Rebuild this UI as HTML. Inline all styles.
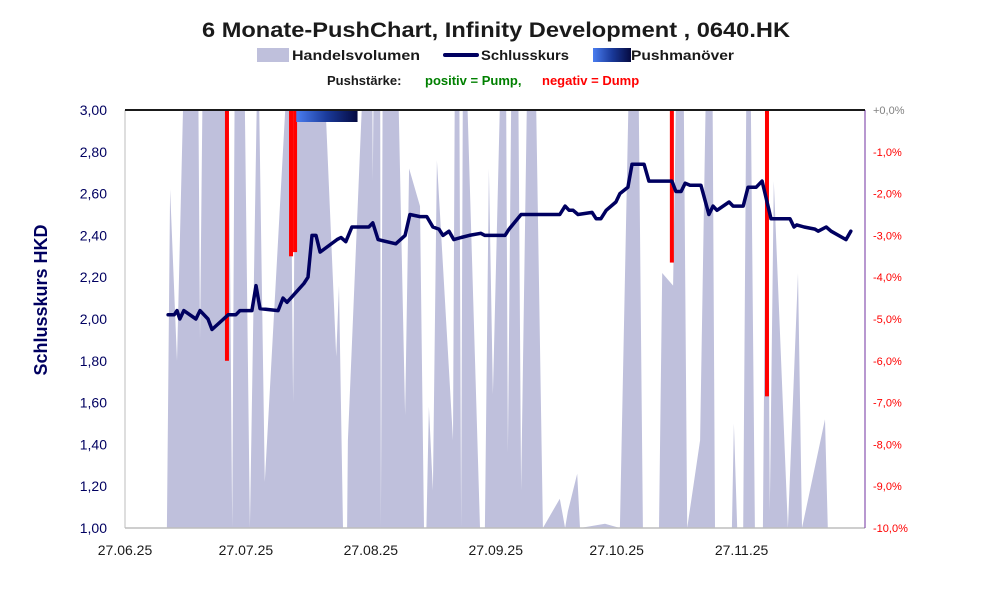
<!DOCTYPE html>
<html><head><meta charset="utf-8"><style>
html,body{margin:0;padding:0;background:#fff}
svg{display:block;font-family:"Liberation Sans",sans-serif}
</style></head><body>
<svg id="chart" width="991" height="593" viewBox="0 0 991 593">
<defs>
<linearGradient id="pg" x1="0" x2="1" y1="0" y2="0"><stop offset="0" stop-color="#4a7df0"/><stop offset="0.5" stop-color="#1a3a9a"/><stop offset="1" stop-color="#050a40"/></linearGradient>
<clipPath id="plotclip"><rect x="125" y="110" width="740" height="418"/></clipPath>
</defs>
<text x="496" y="37" text-anchor="middle" font-size="21" font-weight="bold" fill="#1a1a1a" textLength="588" lengthAdjust="spacingAndGlyphs">6 Monate-PushChart, Infinity Development , 0640.HK</text>
<g>
<g><rect x="257" y="48" width="32" height="14" fill="#bfc0dc"/><text x="292" y="60" font-size="14" font-weight="bold" fill="#1a1a1a" textLength="128" lengthAdjust="spacingAndGlyphs">Handelsvolumen</text></g>
<g><line x1="445" y1="55" x2="477" y2="55" stroke="#000060" stroke-width="4" stroke-linecap="round"/><text x="481" y="60" font-size="14" font-weight="bold" fill="#1a1a1a" textLength="88" lengthAdjust="spacingAndGlyphs">Schlusskurs</text></g>
<g><rect x="593" y="48" width="38" height="14" fill="url(#pg)"/><text x="631" y="60" font-size="14" font-weight="bold" fill="#1a1a1a" textLength="103" lengthAdjust="spacingAndGlyphs">Pushmanöver</text></g>
<text y="85" font-size="13" font-weight="bold"><tspan x="327" fill="#1a1a1a">Pushstärke:</tspan><tspan x="425" fill="#008000">positiv = Pump,</tspan><tspan x="542" fill="#ff0000">negativ = Dump</tspan></text>
</g>
<g id="plot"></g>
<text transform="translate(47,300) rotate(-90)" text-anchor="middle" font-size="18" font-weight="bold" fill="#000060">Schlusskurs HKD</text>
</svg>
<script>
const volDays=[10.4,11.2,12.9,14.9,18.1,18.6,19.4,25.6,26.6,27.3,29.5,31,33,34.7,40.9,41.7,42.4,48.9,52.4,53.1,54.1,55.1,55.3,59.6,61.3,61.5,61.8,63.3,63.5,64,67.5,69.5,70.5,73.2,74.2,74.8,75.4,76.4,77.4,81.4,81.9,82.9,83.4,83.9,84.4,88.1,89.3,90.3,91.3,93.5,94.5,95,96,97.5,98.3,100,101.7,103.7,107.9,109.2,109.9,112.2,112.9,119.1,122.8,125.3,127.3,128.5,132.5,133.3,136,137,138.5,139.5,142.7,144.4,145.7,146.4,150.6,151.1,151.9,153.4,154.3,155.1,156.3,158.3,159.3,160,161,164.5,167,168,173.7,174.4];
const volValues=[0,81,40,120,120,45,120,120,0,120,120,0,120,11,120,30,120,120,41,58,0,0,21,120,120,83,120,120,0,120,120,27,86,77,0,0,29,9,88,21,120,120,0,120,120,0,0,86,32,120,120,18,120,120,9,120,120,0,7,0,4,13,0,1,0,120,120,0,0,61,58,120,120,0,21,120,120,0,0,25,0,0,120,120,0,0,120,4,83,0,61,0,26,0];
const priceDays=[10.7,12.2,12.9,13.6,14.6,17.6,18.6,20.6,21.6,25.6,27.5,28.5,31.5,32.5,33.5,38,39.2,40.2,44.4,45.4,46.4,47.4,48.4,52.6,53.6,54.8,56.3,60.5,61.5,62.8,67.2,69.5,70.7,73.2,74.9,76.4,77.9,78.9,80.4,81.6,83.4,85.4,88.3,89.3,94.3,95.3,98.3,107.9,109.2,110.2,111.2,112.4,115.9,116.9,118.1,119.4,121.8,122.8,124.8,125.8,128.8,130,132,133.7,135.7,136.7,138,139,140.2,142.9,144.9,145.9,146.9,149.9,150.9,153.4,154.6,156.6,158.1,160.3,165,166,166.7,168.5,171.2,172,174,175.2,178.9,180.1];
const priceValues=[2.02,2.02,2.04,2.00,2.04,2.00,2.04,2.00,1.95,2.02,2.02,2.04,2.04,2.16,2.05,2.04,2.10,2.08,2.17,2.20,2.40,2.40,2.32,2.38,2.39,2.37,2.44,2.44,2.46,2.38,2.36,2.40,2.50,2.49,2.49,2.44,2.43,2.40,2.42,2.38,2.39,2.40,2.41,2.40,2.40,2.43,2.50,2.50,2.54,2.52,2.52,2.50,2.51,2.48,2.48,2.52,2.56,2.60,2.63,2.74,2.74,2.66,2.66,2.66,2.66,2.61,2.61,2.65,2.64,2.64,2.50,2.54,2.52,2.56,2.54,2.54,2.63,2.63,2.66,2.48,2.48,2.44,2.45,2.44,2.43,2.42,2.44,2.42,2.38,2.42];
const pushDays=[25.3,41.2,42.2,135.7,159.3];
const pushValues=[-6.0,-3.5,-3.4,-3.65,-6.85];
const pumpBoxStart=42.5, pumpBoxEnd=57.7;
const yTicks=[1.0,1.2,1.4,1.6,1.8,2.0,2.2,2.4,2.6,2.8,3.0];
const yTickLabels=["1,00","1,20","1,40","1,60","1,80","2,00","2,20","2,40","2,60","2,80","3,00"];
const rTicks=[0,-1,-2,-3,-4,-5,-6,-7,-8,-9,-10];
const rTickLabels=["+0,0%","-1,0%","-2,0%","-3,0%","-4,0%","-5,0%","-6,0%","-7,0%","-8,0%","-9,0%","-10,0%"];
const xTickDays=[0,30,61,92,122,153];
const xTickLabels=["27.06.25","27.07.25","27.08.25","27.09.25","27.10.25","27.11.25"];

const L=125,R=865,T=110,B=528;
const xS=d=>L+d*4.03;
const yS=p=>B-(p-1)/2*(B-T);
const rS=v=>T-v/10*(B-T);
const vS=v=>B-v/100*(B-T);
const NS="http://www.w3.org/2000/svg";
const plot=document.getElementById('plot');
function mk(tag,attrs,parent){const e=document.createElementNS(NS,tag);for(const k in attrs)e.setAttribute(k,attrs[k]);(parent||plot).appendChild(e);return e;}

const clipG=mk('g',{'clip-path':'url(#plotclip)'});


let d='M'+xS(volDays[0])+','+B;
volDays.forEach((v,i)=>{d+=' L'+xS(v).toFixed(1)+','+vS(volValues[i]).toFixed(1);});
d+=' L'+xS(volDays[volDays.length-1])+','+B+' Z';
const area=mk('path',{d:d,fill:'#bfc0dc',stroke:'none'},clipG);



pushDays.forEach((pd,i)=>{
  const r=mk('rect',{x:xS(pd)-2,y:T,width:4,height:rS(pushValues[i])-T,fill:'#ff0000'},clipG);
  
  
});
const pb=mk('rect',{x:xS(pumpBoxStart),y:T,width:xS(pumpBoxEnd)-xS(pumpBoxStart),height:12,fill:'url(#pg)'},clipG);



const pts=priceDays.map((p,i)=>xS(p).toFixed(1)+','+yS(priceValues[i]).toFixed(1)).join(' ');
const line=mk('polyline',{points:pts,fill:'none',stroke:'#000060','stroke-width':3.5,'stroke-linejoin':'round','stroke-linecap':'round'},clipG);



const ax=mk('g',{});


mk('line',{x1:L,y1:B,x2:R,y2:B,stroke:'#bdbdbd','stroke-width':1.5},ax);
mk('line',{x1:L,y1:T,x2:L,y2:B,stroke:'#bdbdbd','stroke-width':1},ax);
mk('line',{x1:R,y1:T,x2:R,y2:B,stroke:'#7030a0','stroke-width':1},ax);
mk('line',{x1:L,y1:T,x2:R,y2:T,stroke:'#1a1a1a','stroke-width':2},ax);

yTicks.forEach((t,i)=>{
  const tx=mk('text',{x:107,y:yS(t)+5,'text-anchor':'end','font-size':14,fill:'#000060'},ax);
  tx.textContent=yTickLabels[i];
  
  
});
rTicks.forEach((t,i)=>{
  const tx=mk('text',{x:873,y:rS(t)+4,'font-size':11,fill:i===0?'#808080':'#ff0000'},ax);
  tx.textContent=rTickLabels[i];
  
  
});
xTickDays.forEach((t,i)=>{
  const tx=mk('text',{x:xS(t),y:555,'text-anchor':'middle','font-size':14,fill:'#1a1a1a'},ax);
  tx.textContent=xTickLabels[i];
  
  
});
</script>
</body></html>
